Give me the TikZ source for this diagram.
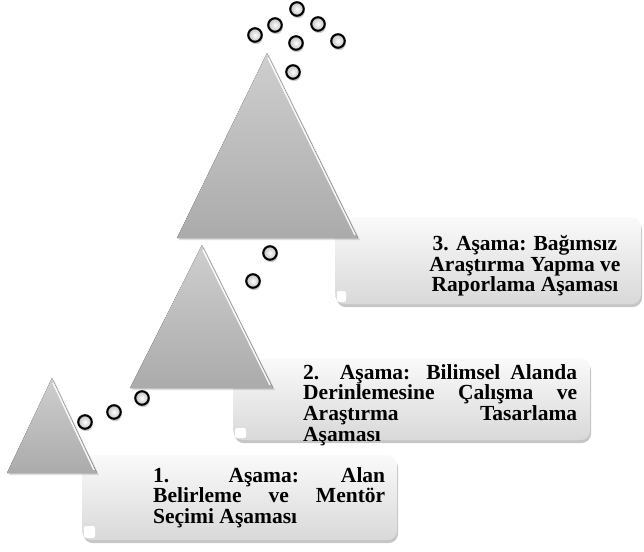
\documentclass[tikz,border=0pt]{standalone}
\usepackage{fontspec}
\setmainfont{Liberation Serif}
\usetikzlibrary{shadows}

\newcommand{\jline}[2]{\makebox[#1][s]{#2}}

\begin{document}
\begin{tikzpicture}[x=1pt,y=-1pt,
    stage/.style={rectangle,rounded corners=10pt,anchor=north west,inner sep=0pt,
        top color=gray!4,bottom color=gray!30,
        drop shadow={opacity=.45,shadow xshift=1pt,shadow yshift=-3pt}},
    peak/.style={top color=gray!38,bottom color=gray!66,
        drop shadow={opacity=.25,shadow xshift=2pt,shadow yshift=-2pt}},
    gleam/.style={white,line width=1.4pt,opacity=.9},
    bead/.style={circle,draw=black,line width=2.1pt,inner sep=0pt,minimum size=13.5pt,
        inner color=white,outer color=gray!50,
        drop shadow={opacity=.4,shadow xshift=1pt,shadow yshift=-2.5pt}},
    stagetext/.style={font=\fontsize{21.5}{20.7}\selectfont\bfseries,inner sep=0pt}]
    \useasboundingbox (0,0) rectangle (644,551);
    % boxes
    \node[stage,minimum width=315pt,minimum height=85pt] (box1) at (82,455) {};
    \node[stage,minimum width=357pt,minimum height=82pt] (box2) at (233,358) {};
    \node[stage,minimum width=306pt,minimum height=87pt] (box3) at (335,217) {};
    \fill[white,rounded corners=2pt] (84,526) rectangle (95,538);
    \fill[white,rounded corners=2pt] (235,428) rectangle (246,438);
    \fill[white,rounded corners=2pt] (337,291) rectangle (346,302);
    % triangles
    \fill[peak] (52,378) -- (7,473) -- (97,473) -- cycle;
    \draw[gleam] (53,383) -- (94,470);
    \fill[peak] (202,245) -- (130,388) -- (273,388) -- cycle;
    \draw[gleam] (203,250) -- (270,385);
    \fill[peak] (267,53) -- (177,238) -- (358,238) -- cycle;
    \draw[gleam] (268,58) -- (355,235);
    % beads
    \node[bead] (b1) at (85,422) {};
    \node[bead] (b2) at (114,412) {};
    \node[bead] (b3) at (142,398) {};
    \node[bead] (b4) at (253,281) {};
    \node[bead] (b5) at (270,253) {};
    \node[bead] (b6) at (293,72) {};
    \node[bead] (b7) at (296,43) {};
    \node[bead] (b8) at (255,35) {};
    \node[bead] (b9) at (275,25) {};
    \node[bead] (b10) at (297,9) {};
    \node[bead] (b11) at (318,24) {};
    \node[bead] (b12) at (338,41) {};
    % texts
    \node[stagetext,anchor=north west,align=left] (t1) at (153,467)
        {\jline{232pt}{1. Aşama: Alan}\\\jline{232pt}{Belirleme ve Mentör}\\Seçimi Aşaması};
    \node[stagetext,anchor=north west,align=left] (t2) at (303,364)
        {\jline{274pt}{2. Aşama: Bilimsel Alanda}\\\jline{274pt}{Derinlemesine Çalışma ve}\\\jline{274pt}{Araştırma Tasarlama}\\Aşaması};
    \node[stagetext,anchor=north,align=center] (t3) at (525,235)
        {3. Aşama: Bağımsız\\Araştırma Yapma ve\\Raporlama Aşaması};
\end{tikzpicture}
\end{document}
